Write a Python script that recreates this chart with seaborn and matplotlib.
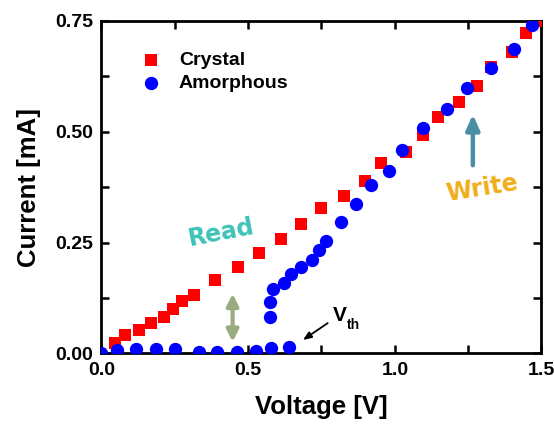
import matplotlib
matplotlib.use("Agg")
import matplotlib.pyplot as plt
import seaborn as sns
import pandas as pd
from matplotlib.ticker import MultipleLocator, FixedLocator

# ---- data ----
crystal_v = [0.046, 0.080, 0.128, 0.168, 0.212, 0.243, 0.273, 0.315, 0.387, 0.464,
             0.538, 0.612, 0.680, 0.748, 0.827, 0.899, 0.953, 1.037, 1.097, 1.148,
             1.218, 1.279, 1.328, 1.399, 1.447, 1.495]
crystal_i = [0.024, 0.042, 0.053, 0.068, 0.083, 0.100, 0.118, 0.132, 0.166, 0.196,
             0.227, 0.259, 0.292, 0.327, 0.356, 0.388, 0.429, 0.453, 0.492, 0.534,
             0.566, 0.604, 0.646, 0.680, 0.722, 0.750]
amorph_v = [0.000, 0.054, 0.117, 0.186, 0.251, 0.332, 0.395, 0.463, 0.526, 0.578,
            0.639, 0.575, 0.575, 0.586, 0.622, 0.646, 0.679, 0.719, 0.742, 0.764,
            0.818, 0.869, 0.919, 0.981, 1.026, 1.097, 1.177, 1.247, 1.328, 1.406, 1.469]
amorph_i = [0.000, 0.007, 0.011, 0.010, 0.011, 0.004, 0.004, 0.004, 0.006, 0.013,
            0.015, 0.083, 0.115, 0.145, 0.158, 0.179, 0.196, 0.211, 0.233, 0.254,
            0.296, 0.336, 0.379, 0.412, 0.459, 0.508, 0.550, 0.599, 0.643, 0.686, 0.740]
x_ticks = [0.0, 0.5, 1.0, 1.5]
x_ticklabels = ["0.0", "0.5", "1.0", "1.5"]
y_ticks = [0.00, 0.25, 0.50, 0.75]
y_ticklabels = ["0.00", "0.25", "0.50", "0.75"]

df_c = pd.DataFrame({"Voltage": crystal_v, "Current": crystal_i})
df_a = pd.DataFrame({"Voltage": amorph_v, "Current": amorph_i})

sns.set_style("ticks")
plt.rcParams["font.family"] = ["Liberation Sans", "DejaVu Sans"]
plt.rcParams["font.weight"] = "bold"
plt.rcParams["text.color"] = "black"
plt.rcParams["axes.labelcolor"] = "black"
plt.rcParams["axes.edgecolor"] = "black"
plt.rcParams["xtick.color"] = "black"
plt.rcParams["ytick.color"] = "black"

fig = plt.figure(figsize=(5.54, 4.29), dpi=100)
ax = fig.add_axes([0.1832, 0.176, 0.7942, 0.7757])

sns.scatterplot(data=df_c, x="Voltage", y="Current", ax=ax, marker="s", color="#ff0000",
                s=74, linewidth=0, label="Crystal", zorder=3)
sns.scatterplot(data=df_a, x="Voltage", y="Current", ax=ax, marker="o", color="#0000ff",
                s=92, linewidth=0, label="Amorphous", zorder=4)

ax.set_xlim(0, 1.5)
ax.set_ylim(0, 0.75)
ax.xaxis.set_major_locator(FixedLocator(x_ticks))
ax.set_xticklabels(x_ticklabels)
ax.yaxis.set_major_locator(FixedLocator(y_ticks))
ax.set_yticklabels(y_ticklabels)
ax.xaxis.set_minor_locator(MultipleLocator(0.25))
ax.yaxis.set_minor_locator(MultipleLocator(0.125))
ax.tick_params(which="both", direction="in", top=True, right=True, width=1.8,
               length=6, labelsize=14, pad=6, colors="black")
for lab in ax.get_xticklabels() + ax.get_yticklabels():
    lab.set_fontweight("bold")
for sp in ax.spines.values():
    sp.set_linewidth(2.0)
    sp.set_color("black")
    sp.set_visible(True)

ax.set_xlabel("Voltage [V]", fontsize=18.5, fontweight="bold", labelpad=12)
ax.set_ylabel("Current [mA]", fontsize=18.5, fontweight="bold", labelpad=10)

leg = ax.legend(loc="upper left", bbox_to_anchor=(0.05, 0.93), frameon=False,
                prop={"size": 14, "weight": "bold"}, handletextpad=0.45,
                labelspacing=0.25, borderaxespad=0, markerscale=1.0)

# annotations
ax.text(0.41, 0.272, "Read", color="#3ec3b9", fontsize=17, fontweight="bold",
        family="DejaVu Sans", rotation=11, ha="center", va="center")
ax.text(1.296, 0.373, "Write", color="#f0ae1c", fontsize=17, fontweight="bold",
        family="DejaVu Sans", rotation=9, ha="center", va="center")
ax.annotate("", xy=(1.266, 0.545), xytext=(1.266, 0.418),
            arrowprops=dict(arrowstyle="-|>,head_width=0.4,head_length=0.9",
                            color="#4a8ea6", lw=3.2))
ax.annotate("", xy=(0.447, 0.141), xytext=(0.447, 0.020),
            arrowprops=dict(arrowstyle="<|-|>,head_width=0.35,head_length=0.7",
                            color="#9aab80", lw=3))
ax.annotate("", xy=(0.679, 0.027), xytext=(0.779, 0.072),
            arrowprops=dict(arrowstyle="-|>,head_width=0.2,head_length=0.5",
                            color="black", lw=1.3))
ax.text(0.790, 0.085, "V", fontsize=15, fontweight="bold", ha="left", va="center")
ax.text(0.838, 0.064, "th", fontsize=10, fontweight="bold", ha="left", va="center")

fig.savefig("out.png", dpi=100)
